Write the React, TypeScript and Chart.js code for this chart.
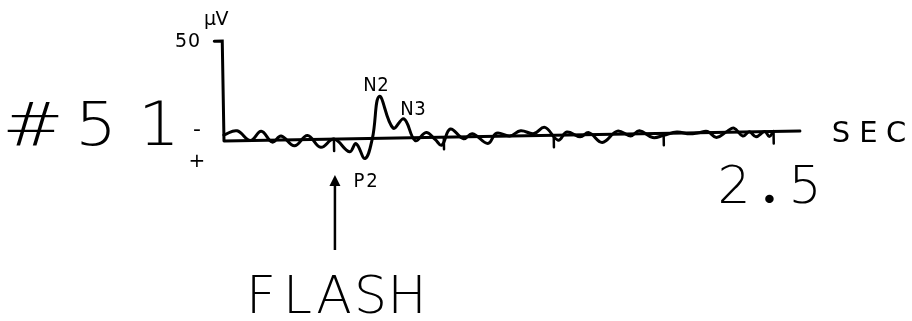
import React, { useEffect, useRef } from "react";
import { Chart, registerables } from "chart.js";

Chart.register(...registerables);

// Averaged evoked response, record #51 (time in seconds, amplitude in microvolts)
const TIME_S = [
  0, 0.06, 0.12, 0.17, 0.22, 0.26, 0.32, 0.38, 0.44, 0.5, 0.57, 0.6, 0.64, 0.675, 0.71,
  0.77, 0.82, 0.87, 0.92, 0.96, 0.99, 1.03, 1.09, 1.13, 1.2, 1.24, 1.3, 1.35, 1.41, 1.46,
  1.52, 1.56, 1.62, 1.66, 1.72, 1.79, 1.85, 1.89, 1.95, 2.0, 2.06, 2.12, 2.16, 2.2, 2.24,
  2.29, 2.32, 2.36, 2.39, 2.42, 2.46, 2.48, 2.5,
];
const AMPLITUDE_UV = [
  3, 5, 0, 4.5, -1, 2, -3, 2, -4, 0, -6.5, -2.5, -10, 0, 21,
  5, 9.5, -1.5, 2.5, -1, -4, 4, -1, 1.5, -3.5, 1.5, 0, 2.5, 1, 4,
  -2.5, 1.5, -1, 1, -4, 1.5, -1, 1.5, -2, -1, 0.5, -0.5, 0, 0.5, -2.5,
  0.5, 2, -2, 0, -2.5, 0, -2.5, 0,
];

// Axis marks
const Y_TICK_UV = 50;
const TIME_TICKS_S = [0.5, 1, 1.5, 2, 2.5];
const TIME_AXIS_END_S = 2.62;
const TIME_LABEL = "2.5";
const TIME_UNIT = "SEC";
const AMP_UNIT = "\u00b5V";
const RECORD_LABEL = "#51";
const STIMULUS_LABEL = "FLASH";
const STIMULUS_TIME_S = 0.5;

// Named components of the response
const COMPONENT_NAMES = ["N2", "N3", "P2"];

const INK = "#000";
const FONT = '"DejaVu Sans", "Roboto", sans-serif';
const DOT_FONT = '"Lato", "Noto Sans", sans-serif';
const TILT = (1.0 * Math.PI) / 180;

// Draws text one character per fixed-width cell, like a pen plotter.
function drawCells(
  ctx: CanvasRenderingContext2D,
  text: string,
  firstCenter: number,
  pitch: number,
  baseline: number,
  size: number,
  sx = 1,
  weight = 200
) {
  ctx.save();
  ctx.fillStyle = INK;
  ctx.textAlign = "center";
  ctx.textBaseline = "alphabetic";
  Array.from(text).forEach((ch, i) => {
    ctx.save();
    ctx.font = ch === "." ? `900 ${size}px ${DOT_FONT}` : `${weight} ${size}px ${FONT}`;
    ctx.translate(firstCenter + i * pitch, baseline);
    ctx.scale(ch === "#" ? sx * 1.12 : sx, 1);
    ctx.fillText(ch, 0, 0);
    ctx.restore();
  });
  ctx.restore();
}

const tracePlot = {
  id: "tracePlot",
  beforeDatasetsDraw(chart: any) {
    const { ctx, scales } = chart;
    const x = scales.x;
    const y = scales.y;
    const ox = x.getPixelForValue(0);
    const oy = y.getPixelForValue(0);
    ctx.save();
    ctx.translate(ox, oy);
    ctx.rotate(-TILT);
    ctx.translate(-ox, -oy);

    ctx.strokeStyle = INK;
    ctx.lineWidth = 3;
    ctx.lineCap = "round";
    ctx.beginPath();
    // amplitude axis with its 50 µV mark
    const top = y.getPixelForValue(Y_TICK_UV);
    ctx.moveTo(ox, oy);
    ctx.lineTo(ox, top);
    ctx.lineTo(ox - 8, top);
    // time axis
    ctx.moveTo(ox, oy);
    ctx.lineTo(x.getPixelForValue(TIME_AXIS_END_S), oy);
    ctx.stroke();

    ctx.lineWidth = 2.5;
    ctx.beginPath();
    TIME_TICKS_S.forEach((t) => {
      const px = x.getPixelForValue(t);
      ctx.moveTo(px, oy);
      ctx.lineTo(px, oy + 12);
    });
    ctx.stroke();
  },
  afterDatasetsDraw(chart: any) {
    const { ctx, scales } = chart;
    ctx.restore();
    const x = scales.x;

    // record number and polarity signs
    drawCells(ctx, RECORD_LABEL, 33, 63, 145, 60, 1.1);
    drawCells(ctx, "-", 197, 0, 136, 22, 1, 400);
    drawCells(ctx, "+", 197, 0, 167, 20, 1, 400);

    // amplitude scale
    drawCells(ctx, String(Y_TICK_UV), 181, 13, 47, 19, 1, 400);
    drawCells(ctx, AMP_UNIT, 210, 12, 25, 19, 1, 400);

    // component labels
    drawCells(ctx, COMPONENT_NAMES[0], 370, 13, 91, 19, 0.95, 400);
    drawCells(ctx, COMPONENT_NAMES[1], 407, 13, 115, 19, 0.95, 400);
    drawCells(ctx, COMPONENT_NAMES[2], 359, 13, 187, 19, 0.95, 400);

    // time unit and scale
    drawCells(ctx, TIME_UNIT, 841, 27.5, 142, 29, 1, 400);
    drawCells(ctx, TIME_LABEL, 734, 35.5, 203, 52, 1);

    // stimulus marker
    const sx = x.getPixelForValue(STIMULUS_TIME_S) + 1;
    ctx.save();
    ctx.strokeStyle = INK;
    ctx.fillStyle = INK;
    ctx.lineWidth = 2.5;
    ctx.beginPath();
    ctx.moveTo(sx, 182);
    ctx.lineTo(sx, 250);
    ctx.stroke();
    ctx.beginPath();
    ctx.moveTo(sx, 175);
    ctx.lineTo(sx - 5.5, 186);
    ctx.lineTo(sx + 5.5, 186);
    ctx.closePath();
    ctx.fill();
    ctx.restore();
    drawCells(ctx, STIMULUS_LABEL, 261, 36.5, 313, 52, 1);
  },
};

export default function App() {
  const canvasRef = useRef<HTMLCanvasElement | null>(null);

  useEffect(() => {
    const canvas = canvasRef.current;
    if (!canvas) return;
    const chart = new Chart(canvas, {
      type: "line",
      data: {
        datasets: [
          {
            data: TIME_S.map((t, i) => ({ x: t, y: AMPLITUDE_UV[i] })),
            borderColor: INK,
            borderWidth: 3,
            pointRadius: 0,
            tension: 0.4,
            fill: false,
            clip: false as any,
            borderJoinStyle: "round",
            borderCapStyle: "round",
          },
        ],
      },
      options: {
        responsive: false,
        animation: false,
        devicePixelRatio: 1,
        layout: { padding: { left: 224, right: 112, top: 41, bottom: 140 } },
        plugins: { legend: { display: false }, tooltip: { enabled: false } },
        scales: {
          x: { type: "linear", min: 0, max: TIME_AXIS_END_S, display: false },
          y: { type: "linear", min: -20, max: Y_TICK_UV, display: false },
        },
      },
      plugins: [tracePlot],
    });
    return () => chart.destroy();
  }, []);

  return (
    <div style={{ position: "absolute", left: 0, top: 0, width: 912, height: 321, background: "#fff" }}>
      <canvas ref={canvasRef} width={912} height={321} />
    </div>
  );
}
